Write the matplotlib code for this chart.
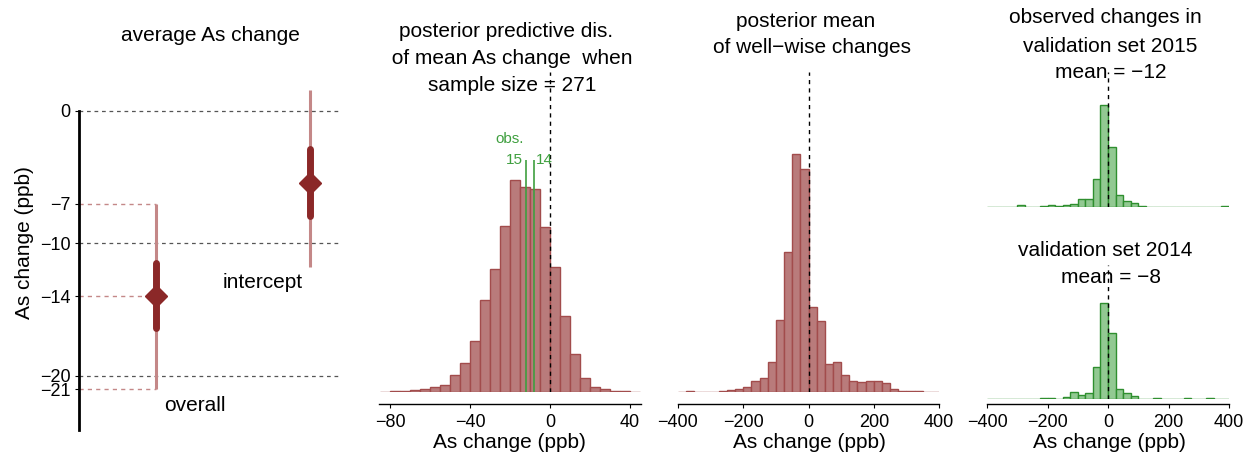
"""Posterior summaries of As change: interval plot + three histogram panels."""
import numpy as np, matplotlib
matplotlib.use("Agg")
import matplotlib.pyplot as plt

W, H, DPI = 1253, 457, 100
plt.rcParams.update({"font.family": ["Liberation Sans", "DejaVu Sans"],
                     "font.size": 15, "axes.linewidth": 1.0})

BAR_FC, BAR_EC = "#b97b7b", "#a24c4c"
GRN_FC, GRN_EC = "#92c992", "#2f8f2f"
DARK, LIGHT = "#8b2828", "#c48888"
OBS = "#3f9f3f"

# ---- panel 1: interval estimates ----
est_names = ["overall", "intercept"]
est_mid = [-14.0, -5.4]
est_lo95 = [-21.0, -11.8]
est_hi95 = [-7.0, 1.6]
est_lo50 = [-16.4, -7.9]
est_hi50 = [-11.5, -2.9]
grey_refs = [0, -10, -20]
red_refs = [-7, -14, -21]
p1_ticks = [0, -7, -10, -14, -20, -21]

# ---- panel 2: posterior predictive of the mean (bins of 5 from -85) ----
pp_edges = np.arange(-85, 46, 5)
pp_counts = [1, 2, 3, 5, 8, 15, 22, 50, 87, 153, 275, 370, 497, 635, 614, 609,
             495, 374, 227, 113, 43, 15, 8, 3, 2, 1]
obs_means = [-12, -8]
obs_labels = ["15", "14"]

# ---- panel 3: posterior means of well-wise changes (bins of 25) ----
ww_edges = np.arange(-400, 401, 25)
ww_counts = [1, 3, 1, 1, 1, 3, 6, 8, 15, 33, 41, 89, 216, 421, 714, 670,
             255, 213, 84, 91, 52, 34, 30, 34, 34, 27, 10, 3, 2, 2, 1, 1]

# ---- panel 4: observed changes in the validation sets ----
v_edges = np.arange(-400, 401, 25)
v2015 = [0, 0, 0, 0, 6, 0, 0, 3, 6, 3, 6, 8, 24, 24, 84, 305,
         179, 35, 19, 11, 2, 0, 0, 0, 0, 0, 0, 0, 0, 0, 0, 3]
v2014 = [0, 0, 0, 0, 0, 0, 0, 2, 2, 0, 6, 20, 11, 17, 97, 288,
         199, 29, 18, 8, 0, 0, 2, 0, 0, 0, 2, 0, 0, 2, 0, 0]


def px_axes(fig, x0, y0, x1, y1):
    return fig.add_axes([x0 / W, (H - y1) / H, (x1 - x0) / W, (y1 - y0) / H])


def ftext(fig, x, y, s, **kw):
    kw.setdefault("ha", "center"); kw.setdefault("va", "baseline")
    fig.text(x / W, 1 - y / H, s, **kw)


def hist_panel(ax, edges, counts, fc, ec, top):
    ax.bar(edges[:-1], counts, width=np.diff(edges), align="edge",
           color=fc, edgecolor=ec, linewidth=1.0, zorder=2)
    ax.axvline(0, color="k", ls=(0, (3, 3)), lw=1.0, zorder=3)
    ax.set_ylim(0, top)
    ax.set_yticks([])
    for s in ("left", "right", "top"):
        ax.spines[s].set_visible(False)


fig = plt.figure(figsize=(W / DPI, H / DPI), dpi=DPI)

# panel 1
ax1 = px_axes(fig, 79, 84.5, 340, 430.3)
ax1.set_xlim(0.5, 2.195); ax1.set_ylim(-24.1, 2.0)
xs = [1, 2]
for y in grey_refs:
    ax1.plot([0.5, 2.195], [y, y], color="#555555", ls=(0, (3, 3)), lw=0.9)
for y in red_refs:
    ax1.plot([0.5, xs[0]], [y, y], color=LIGHT, ls=(0, (3, 3)), lw=1.0)
ax1.vlines(xs, est_lo95, est_hi95, color=LIGHT, lw=2.2, zorder=3)
ax1.vlines(xs, est_lo50, est_hi50, color=DARK, lw=5, zorder=4,
           capstyle="round")
ax1.plot(xs, est_mid, "D", color=DARK, ms=11, zorder=5)
ax1.text(1.253, -22.2, est_names[0], ha="center", va="center", fontsize=15)
ax1.text(1.695, -12.98, est_names[1], ha="center", va="center", fontsize=15)
for s in ("right", "top", "bottom"):
    ax1.spines[s].set_visible(False)
ax1.spines["left"].set_bounds(-24.1, 0)
ax1.spines["left"].set_linewidth(2)
ax1.set_xticks([])
ax1.set_yticks(p1_ticks)
ax1.set_yticklabels([str(t).replace("-", "\u2212") for t in p1_ticks])
ax1.tick_params(axis="y", length=3, pad=3, labelsize=13)
for t, lab in zip(ax1.yaxis.get_major_ticks(), p1_ticks):
    if lab in red_refs:
        t.tick1line.set_color(DARK)
ftext(fig, 210, 41, "average As change")
fig.text(25 / W, 1 - 243 / H, "As change (ppb)", rotation=90,
         ha="center", va="center", fontsize=15)

# panel 2
ax2 = px_axes(fig, 379, 72, 641, 392)
hist_panel(ax2, pp_edges, pp_counts, BAR_FC, BAR_EC, 960)
ax2.set_xlim(-85.5, 45.5)
ax2.set_xticks([-80, -40, 0, 40])
ax2.vlines(obs_means, 0, 696, color=OBS, lw=1.2, zorder=4)
ax2.text(obs_means[0] - 1.5, 696, obs_labels[0], color=OBS, fontsize=11,
         ha="right", va="center")
ax2.text(obs_means[1] + 1.0, 696, obs_labels[1], color=OBS, fontsize=11,
         ha="left", va="center")
ax2.text(-20, 759, "obs.", color=OBS, fontsize=11, ha="center", va="center")

# panel 3
ax3 = px_axes(fig, 678, 72, 939, 392)
hist_panel(ax3, ww_edges, ww_counts, BAR_FC, BAR_EC, 960)
ax3.set_xlim(-400, 400)
ax3.set_xticks([-400, -200, 0, 200, 400])

# panel 4
ax4a = px_axes(fig, 987, 72, 1229, 207)
hist_panel(ax4a, v_edges, v2015, GRN_FC, GRN_EC, 405)
ax4a.set_xlim(-400, 400)
ax4a.spines["bottom"].set_visible(False)
ax4a.set_xticks([])

ax4b = px_axes(fig, 987, 265, 1229, 399)
hist_panel(ax4b, v_edges, v2014, GRN_FC, GRN_EC, 402)
ax4b.set_xlim(-400, 400)
ax4b.set_xticks([-400, -200, 0, 200, 400])

for ax, off in ((ax2, 8.6), (ax3, 8.6), (ax4b, 3.6)):
    ax.spines["bottom"].set_position(("outward", off))
    ax.xaxis.set_major_formatter(
        matplotlib.ticker.FuncFormatter(lambda v, p: f"{v:g}".replace("-", "\u2212")))
    ax.tick_params(axis="x", length=3, pad=4, labelsize=13)

for xc in (509, 809, 1109):
    ftext(fig, xc, 448, "As change (ppb)")

ftext(fig, 506, 37.3, "posterior predictive dis.")
ftext(fig, 509, 64, " of mean As change  when")
ftext(fig, 512, 90.7, "sample size = 271")
ftext(fig, 806, 26.7, "posterior mean")
ftext(fig, 812, 53.3, "of well\u2212wise changes")
ftext(fig, 1105, 23.3, "observed changes in")
ftext(fig, 1110, 51.7, "validation set 2015")
ftext(fig, 1111, 78.3, "mean = \u221212")
ftext(fig, 1105, 256, "validation set 2014")
ftext(fig, 1111, 283.3, "mean = \u22128")

fig.savefig("out.png", dpi=DPI)
